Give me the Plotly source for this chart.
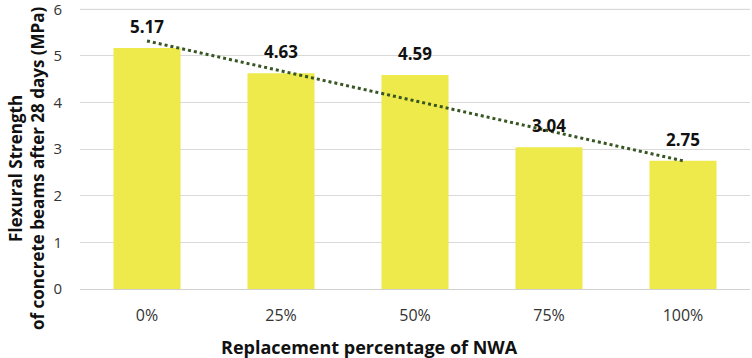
import numpy as np
import plotly.graph_objects as go

categories = ["0%", "25%", "50%", "75%", "100%"]
strength = [5.17, 4.63, 4.59, 3.04, 2.75]
labels = ["5.17", "4.63", "4.59", "3.04", "2.75"]
y_ticks = [0, 1, 2, 3, 4, 5, 6]

FONT = "Open Sans"
W, H = 752, 358
ML, MR, MT, MB = 80, 2, 0, 69
PW, PH = W - ML - MR, H - MT - MB
GRID = "#d9d9d9"

# linear trendline (least squares over category index)
idx = np.arange(len(categories))
slope, intercept = np.polyfit(idx, strength, 1)
trend = slope * idx + intercept

fig = go.Figure()
fig.add_trace(go.Bar(x=categories, y=strength, marker=dict(color="#EEEA4B", line=dict(width=0)),
                     showlegend=False, hoverinfo="y"))
fig.add_trace(go.Scatter(x=categories, y=trend, mode="lines",
                         line=dict(color="#375623", width=3, dash="dot"), showlegend=False))

for c, v, t in zip(categories, strength, labels):
    fig.add_annotation(x=c, y=v, text="<b>%s</b>" % t, showarrow=False, yanchor="bottom",
                       yshift=8, font=dict(family=FONT, size=17, color="#111111"))

# top gridline
fig.add_shape(type="line", xref="paper", yref="y", x0=0, x1=1, y0=y_ticks[-1], y1=y_ticks[-1],
              line=dict(color=GRID, width=1), layer="below")

# y-axis title (two lines, rotated)
fig.add_annotation(xref="paper", yref="paper", x=(26 - ML) / PW, y=(H - MB - 169) / PH,
                   xanchor="center", yanchor="middle", textangle=-90, showarrow=False,
                   text="<b>Flexural Strength<br>of concrete beams after 28 days (MPa)</b>",
                   font=dict(family=FONT, size=17, color="#111111"))
# x-axis title
fig.add_annotation(xref="paper", yref="paper", x=(369 - ML) / PW, y=-(347 - (H - MB)) / PH,
                   xanchor="center", yanchor="middle", showarrow=False,
                   text="<b>Replacement percentage of NWA</b>",
                   font=dict(family=FONT, size=18, color="#111111"))

fig.update_layout(
    width=W, height=H,
    margin=dict(l=ML, r=MR, t=MT, b=MB),
    paper_bgcolor="white", plot_bgcolor="white",
    bargap=0.5,
    font=dict(family=FONT, color="#333333"),
    xaxis=dict(showgrid=False, tickfont=dict(size=16, color="#333333"), ticks="",
               showline=True, linecolor="#d0d0d0", linewidth=1, ticklabelstandoff=12,
               automargin=False),
    yaxis=dict(range=[0, 6.2], tickvals=y_ticks, showgrid=True, gridcolor=GRID, gridwidth=1,
               zeroline=False, tickfont=dict(size=15, color="#333333"), ticks="",
               ticklabelstandoff=17, ticklabeloverflow="allow", automargin=False),
)

fig.write_html("out.html")
